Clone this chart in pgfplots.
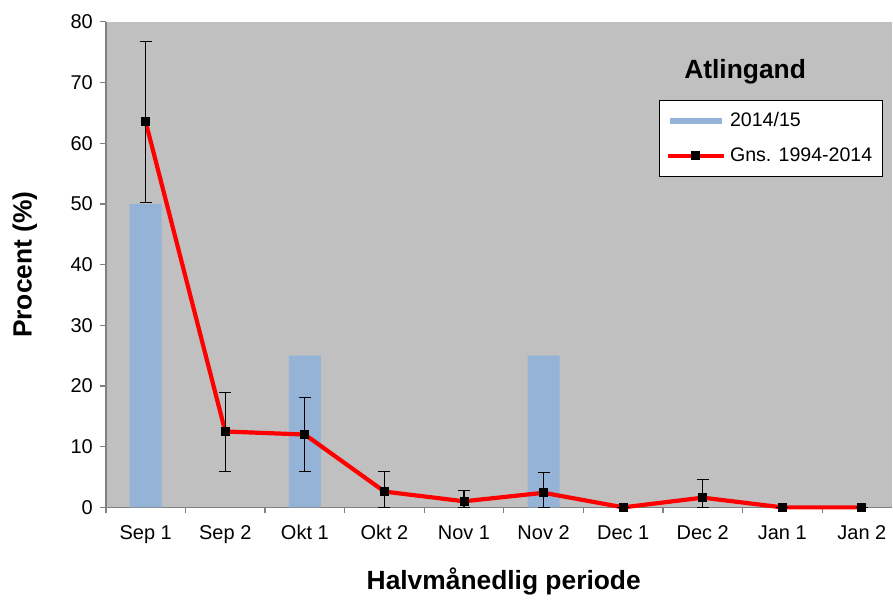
\documentclass[border=0pt]{standalone}
\usepackage{fontspec}
\setmainfont{Liberation Sans}
\usepackage{pgfplots}
\pgfplotsset{compat=1.18}

\definecolor{barblue}{HTML}{95B3D7}
\definecolor{plotbg}{HTML}{C0C0C0}
\definecolor{axisgray}{HTML}{808080}

\pgfplotsset{
    barlegend/.style={legend image code/.code={\fill[barblue] (1pt,-1.6pt) rectangle (27pt,1.6pt);}},
    linelegend/.style={legend image code/.code={\draw[##1, mark repeat=2, mark phase=2]
        plot coordinates {(0pt,0pt) (14pt,0pt) (28pt,0pt)};}},
}

\begin{document}
\begin{tikzpicture}
\begin{axis}[
    scale only axis,
    width=393.5pt, height=243pt,
    clip=false,
    axis background/.style={fill=plotbg},
    axis lines*=left,
    axis line style={draw=axisgray, line width=0.8pt},
    xmin=-0.5, xmax=9.38,
    ymin=0, ymax=80,
    ytick={0,10,...,80},
    xtick={0,...,9},
    xticklabels={Sep 1,Sep 2,Okt 1,Okt 2,Nov 1,Nov 2,Dec 1,Dec 2,Jan 1,Jan 2},
    minor xtick={-0.5,0.5,...,8.5},
    major x tick style={draw=none},
    tick align=outside,
    major tick length=3pt,
    minor tick length=3pt,
    tick style={draw=axisgray, line width=0.6pt},
    /pgf/number format/assume math mode=true,
    ticklabel style={font=\fontsize{10}{11}\selectfont},
    xticklabel style={yshift=-2.5pt},
    xlabel={Halvmånedlig periode},
    ylabel={Procent (\%)},
    label style={font=\fontsize{13.2}{15}\selectfont\bfseries},
    xlabel style={at={(axis description cs:0.506,-0.152)}, anchor=center},
    ylabel style={at={(axis description cs:-0.103,0.5)}, anchor=center},
    legend style={
        at={(rel axis cs:0.704,0.8395)}, anchor=north west,
        draw=black, fill=white, line width=0.5pt,
        font=\fontsize{9.8}{11}\selectfont,
        row sep=5pt, inner xsep=3pt, inner ysep=4pt,
        legend cell align=left,
    },
]

\addplot[ybar, bar width=16pt, fill=barblue, draw=none, barlegend]
coordinates {
    (0,50)
    (2,25)
    (5,25)
};

\addplot[color=red, line width=2.1pt, mark=square*,
    mark options={fill=black, draw=black, line width=0pt}, mark size=2pt,
    linelegend,
    error bars/.cd, y dir=both, y explicit,
    error bar style={black, line width=0.6pt},
    error mark options={rotate=90, mark size=3pt, black, line width=0.6pt}]
coordinates {
    (0,63.5) += (0,13.2) -= (0,13.3)
    (1,12.5) += (0,6.4) -= (0,6.6)
    (2,12.0) += (0,6.1) -= (0,6.1)
    (3,2.6) += (0,3.3) -= (0,2.6)
    (4,1.0) += (0,1.8) -= (0,1.0)
    (5,2.4) += (0,3.3) -= (0,2.4)
    (6,0) += (0,0) -= (0,0)
    (7,1.6) += (0,3.0) -= (0,1.6)
    (8,0) += (0,0) -= (0,0)
    (9,0) += (0,0) -= (0,0)
};

\legend{2014/15, Gns. 1994-2014}

\node[font=\fontsize{13.2}{15}\selectfont\bfseries] at (rel axis cs:0.813,0.897) {Atlingand};
\path (rel axis cs:-0.1347,1.045) circle (0pt);
\end{axis}
\end{tikzpicture}
\end{document}
